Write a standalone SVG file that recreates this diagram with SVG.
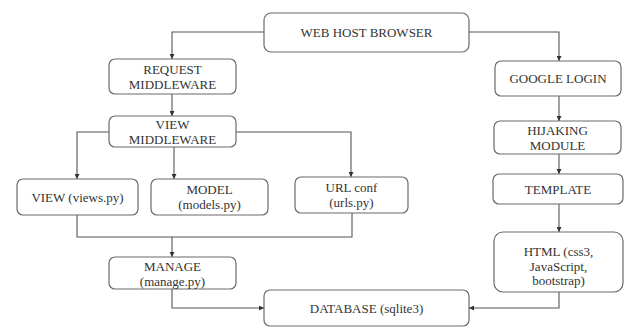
<svg xmlns="http://www.w3.org/2000/svg" width="627" height="327" viewBox="0 0 627 327">
<style>
.box{fill:#fff;stroke:#6a6a6a;stroke-width:1.2}
.t{font-family:'Liberation Serif','Times New Roman','DejaVu Serif',serif;font-size:13px;fill:#333;text-anchor:middle}
.c{fill:none;stroke:#555;stroke-width:1.1;marker-end:url(#ah)}
.n{fill:none;stroke:#555;stroke-width:1.1}
</style>
<defs>
<marker id="ah" viewBox="0 0 6 6" refX="6" refY="3" markerWidth="5" markerHeight="5" orient="auto" markerUnits="userSpaceOnUse">
<path d="M0,0 L6,3 L0,6 z" fill="#333"/>
</marker>
</defs>
<rect width="627" height="327" fill="#fff"/>
<g id="connectors">
<path class="c" d="M264,32 H172 V59"/>
<path class="c" d="M172,94 V116"/>
<path class="c" d="M109,132 H77 V179"/>
<path class="c" d="M174,147 V179"/>
<path class="c" d="M236,132 H351 V177"/>
<path class="n" d="M77,215 V237 H352 V213"/>
<path class="c" d="M172,237 V257"/>
<path class="c" d="M172,289 V308 H264"/>
<path class="c" d="M469,32 H559 V61"/>
<path class="c" d="M559,96 V121"/>
<path class="c" d="M559,154 V174"/>
<path class="c" d="M559,204 V232"/>
<path class="c" d="M559,292 V308 H469"/>
</g>
<g id="web-host-browser"><rect class="box" x="264" y="13" width="205" height="39" rx="7"/><text class="t" x="366.5" y="37">WEB HOST BROWSER</text></g>
<g id="request-middleware"><rect class="box" x="109" y="59" width="127" height="35" rx="6"/><text class="t" x="172.5" y="74">REQUEST</text><text class="t" x="172.5" y="88.5">MIDDLEWARE</text></g>
<g id="view-middleware"><rect class="box" x="109" y="116" width="127" height="31" rx="6"/><text class="t" x="172.5" y="129">VIEW</text><text class="t" x="172.5" y="143.5">MIDDLEWARE</text></g>
<g id="view"><rect class="box" x="17" y="179" width="121" height="36" rx="6"/><text class="t" x="77.5" y="201.5">VIEW (views.py)</text></g>
<g id="model"><rect class="box" x="151" y="179" width="117" height="36" rx="6"/><text class="t" x="209.5" y="194">MODEL</text><text class="t" x="209.5" y="208.5">(models.py)</text></g>
<g id="urlconf"><rect class="box" x="295" y="177" width="113" height="36" rx="6"/><text class="t" x="351.5" y="192">URL conf</text><text class="t" x="351.5" y="206.5">(urls.py)</text></g>
<g id="manage"><rect class="box" x="109" y="257" width="127" height="32" rx="6"/><text class="t" x="172.5" y="271">MANAGE</text><text class="t" x="172.5" y="285.5">(manage.py)</text></g>
<g id="database"><rect class="box" x="264" y="290" width="205" height="36" rx="6"/><text class="t" x="366.5" y="312.5">DATABASE (sqlite3)</text></g>
<g id="google-login"><rect class="box" x="495" y="61" width="126" height="35" rx="6"/><text class="t" x="558" y="83">GOOGLE LOGIN</text></g>
<g id="hijaking-module"><rect class="box" x="494" y="121" width="127" height="33" rx="6"/><text class="t" x="557.5" y="135">HIJAKING</text><text class="t" x="557.5" y="149.5">MODULE</text></g>
<g id="template"><rect class="box" x="493" y="174" width="130" height="30" rx="6"/><text class="t" x="558" y="193.5">TEMPLATE</text></g>
<g id="html"><rect class="box" x="494" y="232" width="129" height="60" rx="9"/><text class="t" x="558.5" y="256">HTML (css3,</text><text class="t" x="558.5" y="270.5">JavaScript,</text><text class="t" x="558.5" y="285">bootstrap)</text></g>
</svg>
